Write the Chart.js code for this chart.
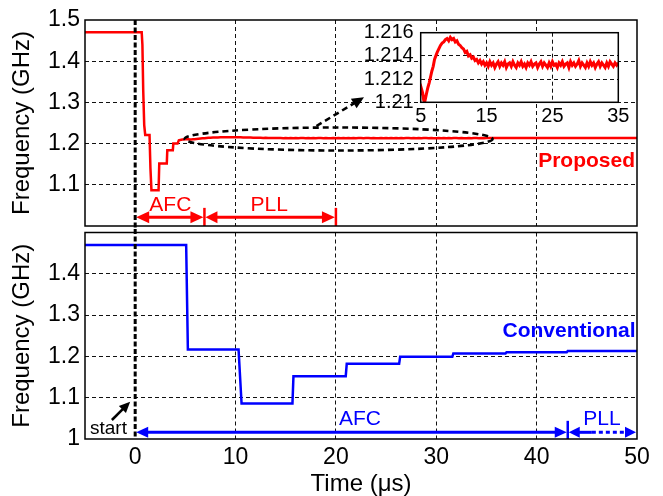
<!DOCTYPE html>
<html><head><meta charset="utf-8">
<script src="https://cdn.jsdelivr.net/npm/chart.js@4.4.1/dist/chart.umd.min.js"></script>
<style>
html,body{margin:0;padding:0;background:#fff;}
#wrap{position:relative;width:663px;height:496px;overflow:hidden;background:#fff;}
canvas{position:absolute;}
</style></head><body>
<div id="wrap">
<canvas id="top" width="663" height="229" style="left:0;top:0"></canvas>
<canvas id="bot" width="663" height="267" style="left:0;top:229px"></canvas>
<canvas id="ins" width="300" height="115" style="left:340px;top:20px"></canvas>
</div>
<script>
// ---------- data ----------
const proposedEarlyX = [-5, 0.65, 0.72, 0.8, 0.9, 1.0, 1.43, 1.52, 1.62, 2.33, 2.4, 3.15, 3.2, 3.75, 3.8, 4.22, 4.35, 4.7];
const proposedEarlyY = [1.47, 1.47, 1.44, 1.33, 1.245, 1.221, 1.221, 1.14, 1.087, 1.087, 1.152, 1.152, 1.184, 1.184, 1.2, 1.2, 1.208, 1.21];
const insetX = [5.0, 5.15, 5.3, 5.45, 5.6, 5.75, 5.9, 6.1, 6.3, 6.5, 6.7, 6.9, 7.1, 7.3, 7.5, 7.75, 8.0, 8.25, 8.5, 8.75,
  9.0, 9.25, 9.5, 9.75, 10.0, 10.25, 10.5, 10.75, 11.0, 11.25, 11.5, 11.75, 12.0, 12.25, 12.5, 12.75, 13.0, 13.25, 13.5, 13.75,
  14.0, 14.25, 14.5, 14.75,
  15.0, 15.25, 15.5, 15.75, 16.0, 16.25, 16.5, 16.75, 17.0, 17.25, 17.5, 17.75, 18.0, 18.25, 18.5, 18.75,
  19.0, 19.25, 19.5, 19.75, 20.0, 20.25, 20.5, 20.75, 21.0, 21.25, 21.5, 21.75, 22.0, 22.25, 22.5, 22.75,
  23.0, 23.25, 23.5, 23.75, 24.0, 24.25, 24.5, 24.75, 25.0, 25.25, 25.5, 25.75, 26.0, 26.25, 26.5, 26.75,
  27.0, 27.25, 27.5, 27.75, 28.0, 28.25, 28.5, 28.75, 29.0, 29.25, 29.5, 29.75, 30.0, 30.25, 30.5, 30.75,
  31.0, 31.25, 31.5, 31.75, 32.0, 32.25, 32.5, 32.75, 33.0, 33.25, 33.5, 33.75, 34.0, 34.25, 34.5, 34.75, 35.0];
const insetY = [1.2106, 1.2111, 1.2108, 1.2102, 1.2100, 1.2104, 1.2108, 1.2113, 1.2117, 1.2122, 1.2127, 1.2131, 1.2137, 1.2140, 1.2143, 1.2146, 1.2149, 1.2151, 1.2152, 1.2154,
  1.2155, 1.2153, 1.2156, 1.2154, 1.2155, 1.2152, 1.2153, 1.2150, 1.2149, 1.2147, 1.2146, 1.2143, 1.2144, 1.2140, 1.2141, 1.2138, 1.2139, 1.2136, 1.2137, 1.2134,
  1.2136, 1.2133, 1.2135, 1.2132,
  1.2134, 1.2131, 1.2135, 1.2132, 1.2134, 1.2130, 1.2133, 1.2135, 1.2131, 1.2134, 1.2132, 1.2135, 1.2130, 1.2133, 1.2134, 1.2131,
  1.2135, 1.2132, 1.2130, 1.2134, 1.2132, 1.2135, 1.2131, 1.2133, 1.2130, 1.2134, 1.2132, 1.2135, 1.2131, 1.2133, 1.2134, 1.2130,
  1.2133, 1.2135, 1.2131, 1.2134, 1.2132, 1.2130, 1.2134, 1.2131, 1.2135, 1.2132, 1.2133, 1.2130, 1.2134, 1.2132, 1.2135, 1.2131,
  1.2133, 1.2134, 1.2130, 1.2135, 1.2132, 1.2134, 1.2131, 1.2133, 1.2136, 1.2131, 1.2134, 1.2132, 1.2130, 1.2134, 1.2131, 1.2135,
  1.2132, 1.2134, 1.2130, 1.2133, 1.2135, 1.2131, 1.2134, 1.2132, 1.2130, 1.2134, 1.2131, 1.2135, 1.2133, 1.2131, 1.2134, 1.2132, 1.2134];
const proposedTailX = [50];
const proposedTailY = [1.2133];
const conventionalX = [-5, 5.08, 5.25, 10.3, 10.6, 15.67, 15.77, 20.98, 21.08, 26.3, 26.4, 31.6, 31.7, 36.9, 37.0, 43.0, 43.1, 50];
const conventionalY = [1.47, 1.47, 1.217, 1.217, 1.086, 1.086, 1.152, 1.152, 1.182, 1.182, 1.199, 1.199, 1.207, 1.207, 1.210, 1.210, 1.213, 1.213];

const timeTicks = [-5, 0, 10, 20, 30, 40, 50];
const timeTickLabels = ['', '0', '10', '20', '30', '40', '50'];
const freqTicks = [1.0, 1.1, 1.2, 1.3, 1.4, 1.5];
const freqTickLabelsTop = ['', '1.1', '1.2', '1.3', '1.4', '1.5'];
const freqTickLabelsBot = ['1', '1.1', '1.2', '1.3', '1.4', ''];
const insetTimeTicks = [5, 15, 25, 35];
const insetTimeTickLabels = ['5', '15', '25', '35'];
const insetFreqTicks = [1.21, 1.212, 1.214, 1.216];
const insetFreqTickLabels = ['1.21', '1.212', '1.214', '1.216'];

// annotation positions (data units)
const topPhaseBounds = [0, 6.9, 20.0];
const botPhaseBounds = [0, 43.1, 50];

// ---------- helpers ----------
const FONT = "'Liberation Sans', Arial, Helvetica, sans-serif";
const RED = '#ff0000', BLUE = '#0000ff';
function pts(xs, ys) { return xs.map((x, i) => ({ x: x, y: ys[i] })); }
function seg(ctx, x1, y1, x2, y2, color, w, dash) {
  ctx.save(); ctx.strokeStyle = color; ctx.lineWidth = w; ctx.setLineDash(dash || []);
  ctx.beginPath(); ctx.moveTo(x1, y1); ctx.lineTo(x2, y2); ctx.stroke(); ctx.restore();
}
function head(ctx, tx, ty, fx, fy, len, half, color) {
  const ang = Math.atan2(ty - fy, tx - fx);
  ctx.save(); ctx.translate(tx, ty); ctx.rotate(ang);
  ctx.beginPath(); ctx.moveTo(0, 0); ctx.lineTo(-len, -half); ctx.lineTo(-len, half); ctx.closePath();
  ctx.fillStyle = color; ctx.fill(); ctx.restore();
}
function text(ctx, s, x, y, font, color, align) {
  ctx.save(); ctx.font = font; ctx.fillStyle = color; ctx.textAlign = align || 'center'; ctx.textBaseline = 'middle';
  ctx.fillText(s, x, y); ctx.restore();
}
const framePlugin = {
  id: 'frame',
  afterDraw(chart) {
    const a = chart.chartArea, ctx = chart.ctx;
    ctx.save(); ctx.strokeStyle = '#000'; ctx.lineWidth = 1.5; ctx.setLineDash([]);
    ctx.strokeRect(a.left, a.top, a.right - a.left, a.bottom - a.top); ctx.restore();
  }
};
function gridColor(lo, hi, skip) {
  return (c) => {
    const v = c.tick ? c.tick.value : null;
    if (v === null || v <= lo + 1e-9 || v >= hi - 1e-9 || (skip !== undefined && Math.abs(v - skip) < 1e-9)) return 'rgba(0,0,0,0)';
    return '#111';
  };
}
function fixBox(w, h) {
  return (s) => {
    if (w !== null) s.width = w;
    if (h !== null) s.height = h;
    s.paddingLeft = 0; s.paddingRight = 0; s.paddingTop = 0; s.paddingBottom = 0;
  };
}
function setTicks(arr) { return (s) => { s.ticks = arr.map(v => ({ value: v })); }; }

const commonOpts = {
  responsive: false, animation: false, devicePixelRatio: 1,
  plugins: { legend: { display: false }, tooltip: { enabled: false } },
  elements: { point: { radius: 0 }, line: { tension: 0 } }
};

// ---------- top chart ----------
const topAnno = {
  id: 'topAnno',
  afterDatasetsDraw(chart) {
    const ctx = chart.ctx, x = chart.scales.x, y = chart.scales.y, a = chart.chartArea;
    // ellipse
    const cx = x.getPixelForValue(20.27), cy = y.getPixelForValue(1.2112);
    const rx = x.getPixelForValue(20.27 + 15.34) - cx, ry = cy - y.getPixelForValue(1.2112 + 0.0279);
    ctx.save(); ctx.strokeStyle = '#000'; ctx.lineWidth = 2.6; ctx.setLineDash([6, 4]);
    ctx.beginPath(); ctx.ellipse(cx, cy, rx, ry, 0, 0, Math.PI * 2); ctx.stroke(); ctx.restore();
    // dashed arrow to inset
    const ax1 = x.getPixelForValue(18.06), ay1 = y.getPixelForValue(1.2427);
    const ax2 = x.getPixelForValue(22.8), ay2 = y.getPixelForValue(1.3124);
    const ang = Math.atan2(ay2 - ay1, ax2 - ax1);
    seg(ctx, ax1, ay1, ax2 - 10 * Math.cos(ang), ay2 - 10 * Math.sin(ang), '#000', 2.6, [6, 4]);
    head(ctx, ax2, ay2, ax1, ay1, 12, 5.5, '#000');
    // phase arrows
    const ya = y.getPixelForValue(1.021), yb0 = y.getPixelForValue(1.0), yb1 = y.getPixelForValue(1.044);
    const p0 = x.getPixelForValue(topPhaseBounds[0]), p1 = x.getPixelForValue(topPhaseBounds[1]), p2 = x.getPixelForValue(topPhaseBounds[2]);
    seg(ctx, p1, yb0, p1, yb1, RED, 2.5); seg(ctx, p2, yb0, p2, yb1, RED, 2.5);
    seg(ctx, p0 + 8, ya, p1 - 9, ya, RED, 3);
    seg(ctx, p1 + 9, ya, p2 - 9, ya, RED, 3);
    head(ctx, p0 + 1, ya, p1, ya, 13, 6, RED);
    head(ctx, p1 - 1, ya, p0, ya, 13, 6, RED);
    head(ctx, p1 + 1, ya, p2, ya, 12, 6, RED);
    head(ctx, p2 - 1, ya, p1, ya, 13, 6, RED);
    text(ctx, 'AFC', x.getPixelForValue(3.5), y.getPixelForValue(1.05), '21px ' + FONT, RED);
    text(ctx, 'PLL', x.getPixelForValue(13.35), y.getPixelForValue(1.05), '21px ' + FONT, RED);
    text(ctx, 'Proposed', x.getPixelForValue(49.8), y.getPixelForValue(1.1566), 'bold 21px ' + FONT, RED, 'right');
    // start line (x=0), continues to the canvas bottom
    const z = x.getPixelForValue(0);
    seg(ctx, z, a.top, z, chart.height, '#000', 3, [5, 2.5]);
  }
};

new Chart(document.getElementById('top'), {
  type: 'line',
  data: { datasets: [{
    data: pts(proposedEarlyX.concat(insetX, proposedTailX), proposedEarlyY.concat(insetY, proposedTailY)),
    borderColor: RED, borderWidth: 2.5, pointRadius: 0, fill: false
  }] },
  options: Object.assign({}, commonOpts, {
    layout: { padding: { left: 0, right: 26, top: 20, bottom: 0 } },
    scales: {
      x: {
        type: 'linear', min: -5, max: 50,
        afterBuildTicks: setTicks(timeTicks), afterFit: fixBox(null, 3),
        ticks: { display: false },
        grid: { color: gridColor(-5, 50, 0), lineWidth: 1, drawTicks: false },
        border: { display: false, dash: [4, 3] }
      },
      y: {
        type: 'linear', min: 1.0, max: 1.5,
        afterBuildTicks: setTicks(freqTicks), afterFit: fixBox(85, null),
        ticks: { callback: (v, i) => freqTickLabelsTop[i], font: { family: FONT, size: 23 }, color: '#000', padding: 5, autoSkip: false },
        grid: { color: gridColor(1.0, 1.5), lineWidth: 1, drawTicks: false },
        border: { display: false, dash: [4, 3] },
        title: { display: true, text: 'Frequency (GHz)', font: { family: FONT, size: 24, lineHeight: 1 }, color: '#000', padding: { top: 10, bottom: 0 } }
      }
    }
  }),
  plugins: [topAnno, framePlugin]
});

// ---------- bottom chart ----------
const botAnno = {
  id: 'botAnno',
  afterDatasetsDraw(chart) {
    const ctx = chart.ctx, x = chart.scales.x, y = chart.scales.y, a = chart.chartArea;
    const z = x.getPixelForValue(0);
    seg(ctx, z, 0, z, a.bottom, '#000', 3, [5, 2.5]);
    const ya = y.getPixelForValue(1.0162), yb0 = y.getPixelForValue(1.0), yb1 = y.getPixelForValue(1.044);
    const p0 = x.getPixelForValue(botPhaseBounds[0]), p1 = x.getPixelForValue(botPhaseBounds[1]), p2 = x.getPixelForValue(botPhaseBounds[2]);
    const pd = x.getPixelForValue(45.5);
    seg(ctx, p1, yb0, p1, yb1, BLUE, 2.5);
    seg(ctx, p0 + 8, ya, p1 - 9, ya, BLUE, 3);
    head(ctx, p0 + 1, ya, p1, ya, 12, 5.5, BLUE);
    head(ctx, p1 - 1, ya, p0, ya, 12, 5.5, BLUE);
    seg(ctx, p1 + 8, ya, pd, ya, BLUE, 3);
    seg(ctx, pd, ya, p2 - 10, ya, BLUE, 3, [4, 3]);
    head(ctx, p1 + 1, ya, p2, ya, 11, 5.5, BLUE);
    head(ctx, p2 - 1, ya, p1, ya, 11, 5.5, BLUE);
    text(ctx, 'AFC', x.getPixelForValue(22.4), y.getPixelForValue(1.047), '21px ' + FONT, BLUE);
    text(ctx, 'PLL', x.getPixelForValue(46.5), y.getPixelForValue(1.049), '21px ' + FONT, BLUE);
    text(ctx, 'Conventional', x.getPixelForValue(49.85), y.getPixelForValue(1.2615), 'bold 21px ' + FONT, BLUE, 'right');
    // start arrow
    const s1x = x.getPixelForValue(-2.32), s1y = y.getPixelForValue(1.046);
    const s2x = x.getPixelForValue(-0.5), s2y = y.getPixelForValue(1.0903);
    const ang = Math.atan2(s2y - s1y, s2x - s1x);
    seg(ctx, s1x, s1y, s2x - 8 * Math.cos(ang), s2y - 8 * Math.sin(ang), '#000', 2.5);
    head(ctx, s2x, s2y, s1x, s1y, 11, 5, '#000');
    text(ctx, 'start', x.getPixelForValue(-2.66), y.getPixelForValue(1.0242), '19px ' + FONT, '#000');
  }
};

new Chart(document.getElementById('bot'), {
  type: 'line',
  data: { datasets: [{
    data: pts(conventionalX, conventionalY),
    borderColor: BLUE, borderWidth: 2.5, pointRadius: 0, fill: false
  }] },
  options: Object.assign({}, commonOpts, {
    layout: { padding: { left: 0, right: 26, top: 3.5, bottom: 0 } },
    scales: {
      x: {
        type: 'linear', min: -5, max: 50,
        afterBuildTicks: setTicks(timeTicks), afterFit: fixBox(null, 57),
        ticks: { callback: (v, i) => timeTickLabels[i], font: { family: FONT, size: 23 }, color: '#000', padding: 5, maxRotation: 0, autoSkip: false },
        grid: { color: gridColor(-5, 50, 0), lineWidth: 1, drawTicks: false },
        border: { display: false, dash: [4, 3] },
        title: { display: true, text: 'Time (\u03bcs)', font: { family: FONT, size: 24, lineHeight: 1 }, color: '#000', padding: { top: 0, bottom: 0 } }
      },
      y: {
        type: 'linear', min: 1.0, max: 1.5,
        afterBuildTicks: setTicks(freqTicks), afterFit: fixBox(85, null),
        ticks: { callback: (v, i) => freqTickLabelsBot[i], font: { family: FONT, size: 23 }, color: '#000', padding: 5, autoSkip: false },
        grid: { color: gridColor(1.0, 1.5), lineWidth: 1, drawTicks: false },
        border: { display: false, dash: [4, 3] },
        title: { display: true, text: 'Frequency (GHz)', font: { family: FONT, size: 24, lineHeight: 1 }, color: '#000', padding: { top: 10, bottom: 0 } }
      }
    }
  }),
  plugins: [botAnno, framePlugin]
});

// ---------- inset chart ----------
const insetBg = {
  id: 'insetBg',
  beforeDraw(chart) {
    const a = chart.chartArea, ctx = chart.ctx;
    ctx.save(); ctx.fillStyle = '#fff'; ctx.fillRect(a.left, a.top, a.right - a.left, a.bottom - a.top); ctx.restore();
  }
};
new Chart(document.getElementById('ins'), {
  type: 'line',
  data: { datasets: [{
    data: pts(insetX, insetY),
    borderColor: RED, borderWidth: 3, pointRadius: 0, fill: false
  }] },
  options: Object.assign({}, commonOpts, {
    layout: { padding: { left: 0, right: 21.7, top: 12.7, bottom: 0 } },
    scales: {
      x: {
        type: 'linear', min: 5, max: 35,
        afterBuildTicks: setTicks(insetTimeTicks), afterFit: fixBox(null, 32.7),
        ticks: { callback: (v, i) => insetTimeTickLabels[i], font: { family: FONT, size: 20 }, color: '#000', padding: 2, maxRotation: 0, autoSkip: false },
        grid: { color: gridColor(5, 35), lineWidth: 1, drawTicks: false },
        border: { display: false, dash: [4, 3] }
      },
      y: {
        type: 'linear', min: 1.21, max: 1.216,
        afterBuildTicks: setTicks(insetFreqTicks), afterFit: fixBox(80.7, null),
        ticks: { callback: (v, i) => insetFreqTickLabels[i], font: { family: FONT, size: 20 }, color: '#000', padding: 7, autoSkip: false },
        grid: { color: gridColor(1.21, 1.216), lineWidth: 1, drawTicks: false },
        border: { display: false, dash: [4, 3] }
      }
    }
  }),
  plugins: [insetBg, framePlugin]
});
</script>
</body></html>
